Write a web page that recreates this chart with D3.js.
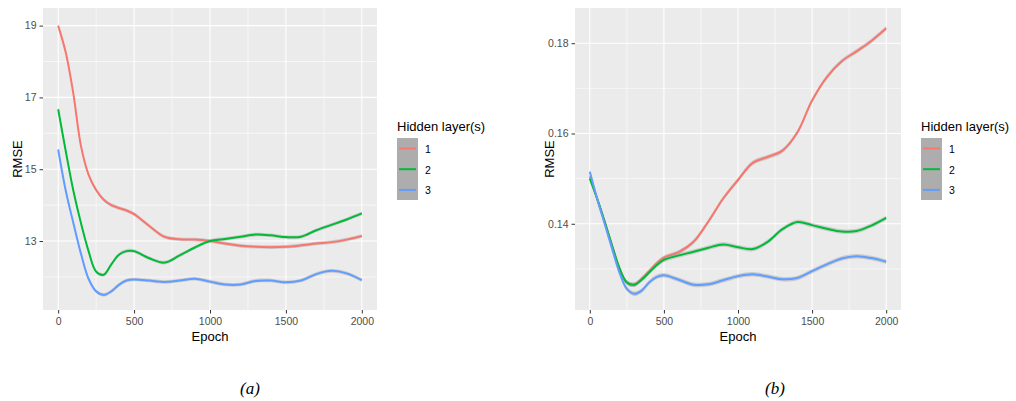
<!DOCTYPE html>
<html>
<head>
<meta charset="utf-8">
<script src="https://cdn.jsdelivr.net/npm/d3@7"></script>
<style>
  body { margin: 0; background: #fff; }
  svg text { font-family: "Liberation Sans", Arial, sans-serif; }
</style>
</head>
<body>
<svg id="chart" width="1016" height="401"></svg>
<script>
// epochs
const epochs = [0, 50, 100, 150, 200, 250, 300, 350, 400, 450, 500, 600, 700, 800, 900,
  1000, 1100, 1200, 1300, 1400, 1500, 1600, 1700, 1800, 1900, 2000];

// panel (a)
const rmseA1 = [19.0, 18.25, 17.1, 15.65, 14.85, 14.42, 14.15, 14.0, 13.92, 13.85, 13.75, 13.42, 13.12, 13.05, 13.04,
  13.0, 12.93, 12.87, 12.84, 12.83, 12.84, 12.88, 12.93, 12.97, 13.04, 13.14];
const rmseA2 = [16.67, 15.5, 14.4, 13.5, 12.72, 12.15, 12.06, 12.35, 12.62, 12.72, 12.72, 12.52, 12.40, 12.60, 12.82,
  13.0, 13.06, 13.12, 13.18, 13.16, 13.11, 13.12, 13.3, 13.45, 13.6, 13.77];
const rmseA3 = [15.55, 14.4, 13.5, 12.65, 11.95, 11.6, 11.5, 11.6, 11.78, 11.9, 11.93, 11.9, 11.86, 11.9, 11.95,
  11.87, 11.79, 11.79, 11.89, 11.9, 11.85, 11.9, 12.08, 12.17, 12.1, 11.91];

// panel (b)
const rmseB1 = [0.1505, 0.1455, 0.1405, 0.1352, 0.1302, 0.1270, 0.1265, 0.1278, 0.1295, 0.1312, 0.1325, 0.1337, 0.1360, 0.1405, 0.1456,
  0.1497, 0.1535, 0.1548, 0.1562, 0.1602, 0.1673, 0.1725, 0.1760, 0.1782, 0.1805, 0.1833];
const rmseB2 = [0.1500, 0.1455, 0.1405, 0.1352, 0.1302, 0.1270, 0.1265, 0.1276, 0.1292, 0.1308, 0.1320, 0.1330, 0.1338, 0.1347, 0.1354,
  0.1348, 0.1344, 0.1360, 0.1388, 0.1404, 0.1397, 0.1389, 0.1383, 0.1384, 0.1396, 0.1413];
const rmseB3 = [0.1515, 0.1455, 0.1400, 0.1345, 0.1292, 0.1256, 0.1245, 0.1252, 0.1270, 0.1282, 0.1286, 0.1276, 0.1265, 0.1266, 0.1275,
  0.1284, 0.1288, 0.1283, 0.1277, 0.1280, 0.1295, 0.1310, 0.1323, 0.1328, 0.1324, 0.1316];

const layers = ["1", "2", "3"];
const xTicks = [0, 500, 1000, 1500, 2000];
const yTicksA = [13, 15, 17, 19];
const yTicksB = [0.14, 0.16, 0.18];
const colors = ["#F8766D", "#00BA38", "#619CFF"];

const svg = d3.select("#chart");

function panel(o) {
  const x = d3.scaleLinear().domain([-100, 2100]).range([o.left, o.right]);
  const y = d3.scaleLinear().domain(o.yDomain).range([o.bottom, o.top]);
  const g = svg.append("g");

  g.append("rect")
    .attr("x", o.left).attr("y", o.top)
    .attr("width", o.right - o.left).attr("height", o.bottom - o.top)
    .attr("fill", "#EBEBEB");

  // minor grid
  const xMinor = [250, 750, 1250, 1750];
  g.selectAll(".xmin").data(xMinor).enter().append("line")
    .attr("x1", d => x(d)).attr("x2", d => x(d))
    .attr("y1", o.top).attr("y2", o.bottom)
    .attr("stroke", "#fff").attr("stroke-width", 0.6);
  g.selectAll(".ymin").data(o.yMinor).enter().append("line")
    .attr("x1", o.left).attr("x2", o.right)
    .attr("y1", d => y(d)).attr("y2", d => y(d))
    .attr("stroke", "#fff").attr("stroke-width", 0.6);

  // major grid
  g.selectAll(".xmaj").data(xTicks).enter().append("line")
    .attr("x1", d => x(d)).attr("x2", d => x(d))
    .attr("y1", o.top).attr("y2", o.bottom)
    .attr("stroke", "#fff").attr("stroke-width", 1.1);
  g.selectAll(".ymaj").data(o.yTicks).enter().append("line")
    .attr("x1", o.left).attr("x2", o.right)
    .attr("y1", d => y(d)).attr("y2", d => y(d))
    .attr("stroke", "#fff").attr("stroke-width", 1.1);

  // axes
  const xAxis = d3.axisBottom(x).tickValues(xTicks).tickSize(3.5).tickPadding(4).tickFormat(d3.format("d"));
  const yAxis = d3.axisLeft(y).tickValues(o.yTicks).tickSize(3.5).tickPadding(3).tickFormat(o.fmt);
  const ax = g.append("g").attr("transform", `translate(0,${o.bottom})`).call(xAxis);
  const ay = g.append("g").attr("transform", `translate(${o.left},0)`).call(yAxis);
  [ax, ay].forEach(a => {
    a.select(".domain").remove();
    a.selectAll("line").attr("stroke", "#333");
    a.selectAll("text").attr("fill", "#4D4D4D").style("font-size", "10.5px")
      .style("font-family", "'Liberation Sans', Arial, sans-serif");
  });

  // series
  const line = d3.line().x((d, i) => x(epochs[i])).y(d => y(d)).curve(d3.curveCatmullRom.alpha(0.5));
  const area = d3.area().x((d, i) => x(epochs[i]))
    .y0(d => y(d - o.se)).y1(d => y(d + o.se)).curve(d3.curveCatmullRom.alpha(0.5));
  o.series.forEach((s, k) => {
    g.append("path").datum(s).attr("d", area).attr("fill", "#999").attr("fill-opacity", 0.4);
    g.append("path").datum(s).attr("d", line)
      .attr("fill", "none").attr("stroke", colors[k]).attr("stroke-width", 2);
  });

  // axis titles
  g.append("text").attr("x", (o.left + o.right) / 2).attr("y", 341)
    .attr("text-anchor", "middle").style("font-size", "13px").attr("fill", "#000").text("Epoch");
  g.append("text").attr("transform", `translate(${o.left - 21},${(o.top + o.bottom) / 2}) rotate(-90)`)
    .attr("text-anchor", "middle").style("font-size", "13px").attr("fill", "#000").text("RMSE");

  // legend
  const lx = o.legendX;
  g.append("text").attr("x", lx).attr("y", 131).style("font-size", "13px").attr("fill", "#000")
    .text("Hidden layer(s)");
  g.append("rect").attr("x", lx).attr("y", 138).attr("width", 21).attr("height", 62).attr("fill", "#ADADAD");
  layers.forEach((l, k) => {
    const cy = 148.5 + k * 20.7;
    g.append("line").attr("x1", lx + 2).attr("x2", lx + 19).attr("y1", cy).attr("y2", cy)
      .attr("stroke", colors[k]).attr("stroke-width", 2);
    g.append("text").attr("x", lx + 28).attr("y", cy + 4.5).style("font-size", "10.5px")
      .attr("fill", "#000").text(l);
  });

  // caption
  svg.append("text").attr("x", o.captionX).attr("y", 394).attr("text-anchor", "middle")
    .style("font-family", "'Liberation Serif', 'Times New Roman', serif")
    .style("font-style", "italic").style("font-size", "17px").attr("fill", "#000")
    .text(o.caption);
}

panel({
  left: 43, right: 377, top: 8, bottom: 310,
  yDomain: [11.08, 19.49], yTicks: yTicksA, yMinor: [12, 14, 16, 18],
  fmt: d3.format("d"), se: 0.05,
  series: [rmseA1, rmseA2, rmseA3],
  legendX: 397, caption: "(a)", captionX: 250
});

panel({
  left: 575, right: 901, top: 8, bottom: 310,
  yDomain: [0.1209, 0.1878], yTicks: yTicksB, yMinor: [0.13, 0.15, 0.17],
  fmt: d3.format(".2f"), se: 0.0005,
  series: [rmseB1, rmseB2, rmseB3],
  legendX: 921, caption: "(b)", captionX: 775
});
</script>
</body>
</html>
